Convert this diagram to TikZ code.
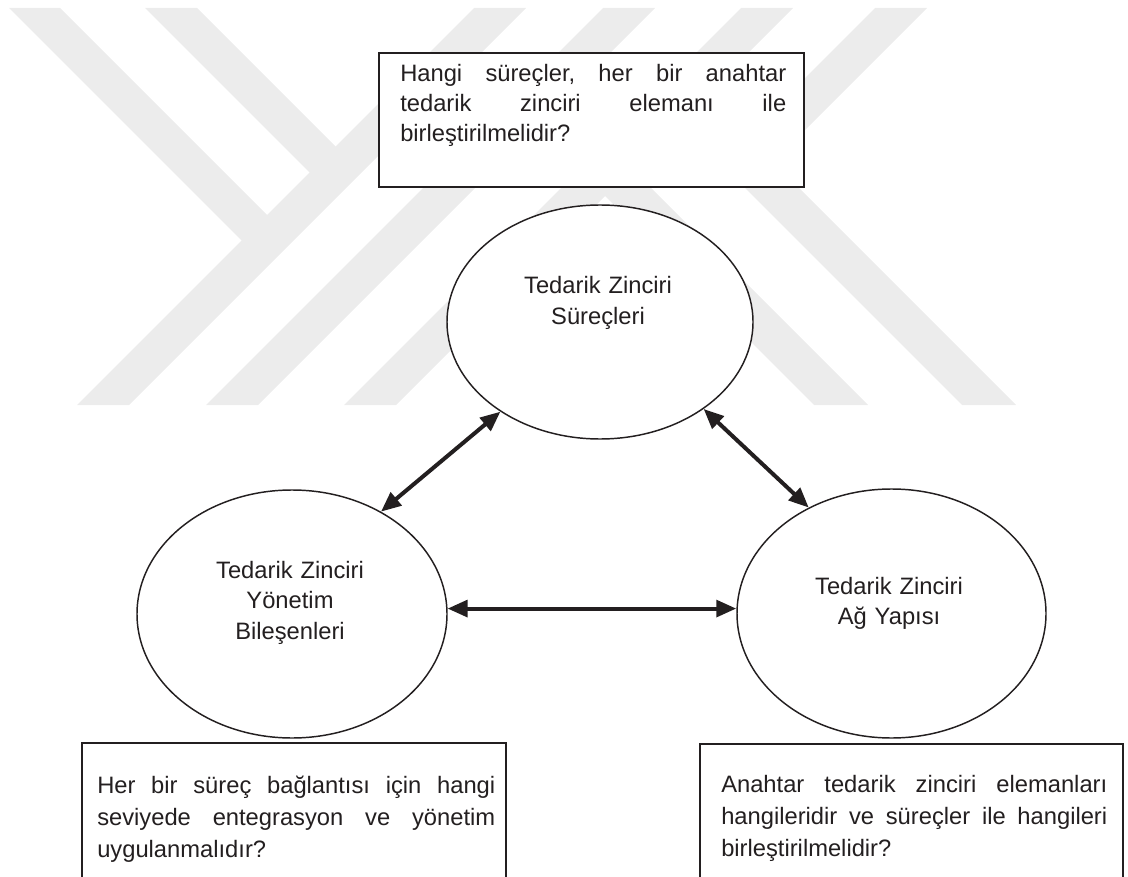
\documentclass[tikz,border=0pt]{standalone}
\usepackage{fontspec}
\setmainfont{Liberation Sans}
\usetikzlibrary{shapes.geometric,arrows.meta}
\definecolor{ink}{RGB}{35,31,32}
\definecolor{markgray}{RGB}{236,236,236}
% a line spread over the full column width (words separated by \hfill)
\newcommand{\jline}[2]{\makebox[#1]{#2}}

\begin{document}
\begin{tikzpicture}[x=0.75pt,y=-0.75pt,
  bubble/.style={ellipse, draw=ink, line width=1.1pt, fill=white, inner sep=0pt},
  qbox/.style={draw=ink, line width=1.2pt, fill=white, inner sep=0pt, anchor=north west},
  bubbletext/.style={text=ink, font=\fontsize{17.8}{23}\selectfont, text width=180pt,
    align=center, anchor=base, inner sep=0pt},
  qtext/.style={text=ink, align=left, anchor=base west, inner sep=0pt},
  band/.style={fill=markgray, draw=none},
  link/.style={draw=ink, line width=3pt,
    {Triangle[length=15pt,width=12.5pt]}-{Triangle[length=15pt,width=12.5pt]}}
]
\useasboundingbox (0,0) rectangle (1128,877);
\clip (0,0) rectangle (1128,877);

% background emblem
\fill[band] (9,8) -- (60,8) -- (280,228) -- (254.5,253.5) -- cycle;
\fill[band] (145,8) -- (197,8) -- (348.5,159.5) -- (322.5,185.5) -- cycle;
\fill[band] (474,8) -- (526,8) -- (129,405) -- (77,405) -- cycle;
\fill[band] (603,8) -- (655,8) -- (258,405) -- (206,405) -- cycle;
\fill[band] (741,8) -- (793,8) -- (396,405) -- (344,405) -- cycle;
\fill[band] (875,8) -- (927,8) -- (773,162) -- (1016,405) -- (962,405) -- (720,163) -- cycle;
\fill[band] (592,183) -- (619,156) -- (868,405) -- (814,405) -- cycle;

% question boxes
\node[qbox, minimum width=318.75pt, minimum height=100.5pt] (tq) at (378,52) {};
\node[qbox, minimum width=318pt, minimum height=118.5pt] (bl) at (81,742) {};
\node[qbox, minimum width=317.25pt, minimum height=118.5pt] (br) at (699,743) {};

% the three components
\node[bubble, minimum width=229.5pt, minimum height=175.5pt] (sc) at (600,322) {};
\node[bubble, minimum width=232.5pt, minimum height=186pt] (yb) at (292,614) {};
\node[bubble, minimum width=231.75pt, minimum height=186.75pt] (ag) at (891.5,613.5) {};

% links between components
\draw[link] (yb.49.8) -- (sc.222.3);
\draw[link] (sc.320.4) -- (ag.128.7);
\draw[link] (yb.2) -- (yb.2 -| ag.west);

% labels
\node[bubbletext] (sct) at (598,294) {Tedarik Zinciri\\Süreçleri};
\node[bubbletext] (ybt) at (290,578) {Tedarik Zinciri\\Yönetim\\Bileşenleri};
\node[bubbletext] (agt) at (889,594) {Tedarik Zinciri\\Ağ Yapısı};

\node[qtext, text width=289.5pt, font=\fontsize{17.8}{22.5}\selectfont] (tqt) at (400,81.7)
  {\jline{289.5pt}{Hangi\hfill süreçler,\hfill her\hfill bir\hfill anahtar}\\
   \jline{289.5pt}{tedarik\hfill zinciri\hfill elemanı\hfill ile}\\
   birleştirilmelidir?};
\node[qtext, text width=298.5pt, font=\fontsize{17.8}{24}\selectfont] (blt) at (97,793)
  {\jline{298.5pt}{Her\hfill bir\hfill süreç\hfill bağlantısı\hfill için\hfill hangi}\\
   \jline{298.5pt}{seviyede\hfill entegrasyon\hfill ve\hfill yönetim}\\
   uygulanmalıdır?};
\node[qtext, text width=289.5pt, font=\fontsize{17.8}{24}\selectfont] (brt) at (721,792)
  {\jline{289.5pt}{Anahtar\hfill tedarik\hfill zinciri\hfill elemanları}\\
   \jline{289.5pt}{hangileridir\hfill ve\hfill süreçler\hfill ile\hfill hangileri}\\
   birleştirilmelidir?};
\end{tikzpicture}
\end{document}
